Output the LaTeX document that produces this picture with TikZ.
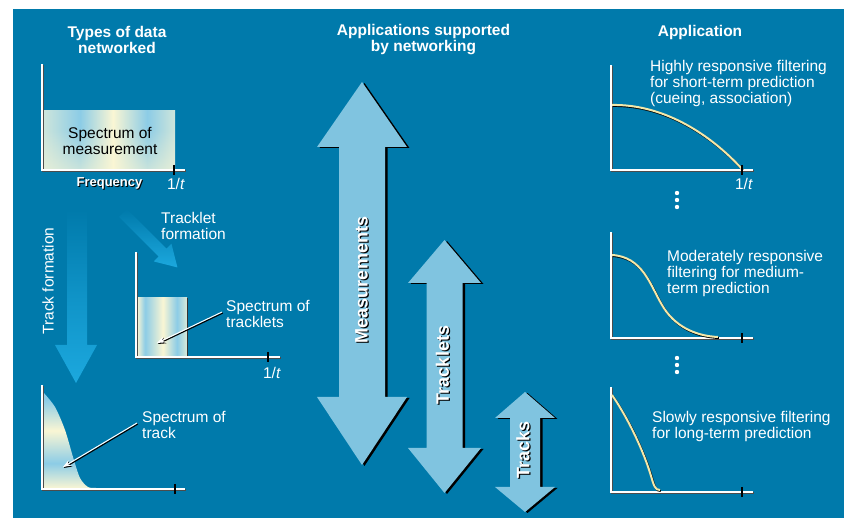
\documentclass[tikz,border=0pt]{standalone}
\usepackage{fontspec}
\setmainfont{Liberation Sans}
\usetikzlibrary{arrows.meta,fadings}
\definecolor{bg}{RGB}{0,122,171}
\definecolor{lblue}{RGB}{128,196,224}
\definecolor{sblue}{RGB}{140,204,230}
\definecolor{syel}{RGB}{250,246,212}
\definecolor{cyanA}{RGB}{28,168,222}
\definecolor{curveY}{RGB}{243,232,170}
\pgfdeclarehorizontalshading{measshade}{100bp}{color(0bp)=(syel!60!sblue); color(25bp)=(syel!60!sblue); color(39bp)=(sblue); color(51.5bp)=(syel); color(64.5bp)=(sblue); color(75bp)=(syel!60!sblue); color(100bp)=(syel!60!sblue)}
\pgfdeclarehorizontalshading{tletshade}{100bp}{color(0bp)=(syel); color(25bp)=(syel); color(33bp)=(sblue); color(51bp)=(syel); color(65bp)=(sblue); color(75bp)=(syel!70!sblue); color(100bp)=(syel!70!sblue)}
\pgfdeclareverticalshading{trackshade}{100bp}{color(0bp)=(syel); color(25bp)=(syel); color(38bp)=(sblue); color(55bp)=(syel); color(71bp)=(sblue); color(75bp)=(sblue); color(100bp)=(sblue)}
\newcommand\dblarrow[7]{%
  \foreach \dx/\dy/\col in {2.5/1/black, 0/0/lblue}{%
    \fill[\col, shift={(\dx,\dy)}] (#1,#2) -- ({#1+#6},#3) -- ({#1+#7},#3) -- ({#1+#7},#4) -- ({#1+#6},#4) -- (#1,#5) -- ({#1-#6},#4) -- ({#1-#7},#4) -- ({#1-#7},#3) -- ({#1-#6},#3) -- cycle;}}
\newcommand\axes[4]{% #1 ox, #2 oy, #3 top y, #4 right x
  \draw[black!70, line width=1.5pt, shift={(1,1.2)}] (#1,#3) -- (#1,#2) -- (#4,#2);
  \draw[white, line width=1.8pt] (#1,#3) -- (#1,#2) -- (#4,#2);}
\newcommand\tickmark[2]{\draw[black, line width=2pt] (#1,{#2-5}) -- (#1,{#2+5});}
\tikzset{
  body/.style={text=white, font=\fontsize{15.5}{16}\selectfont, inner sep=0pt},
  title/.style={text=white, font=\fontsize{15.5}{16}\selectfont\bfseries, align=center, inner sep=0pt},
  arrlabel/.style={font=\fontsize{18}{18}\selectfont\bfseries, inner sep=0pt, rotate=90},
  curve/.style={curveY, line width=2pt},
  curveshadow/.style={black, line width=2pt, shift={(0.8,1)}},
  leader/.style={white, line width=1pt, -{Stealth[length=8pt,width=6pt]}},
  leadershadow/.style={black, line width=1.2pt, shift={(0.8,1)}, -{Stealth[length=8pt,width=6pt]}},
  dot/.style={white}
}
\begin{document}
\begin{tikzpicture}[x=1pt,y=-1pt]
\useasboundingbox (0,0) rectangle (844,518);
\fill[white] (0,0) rectangle (844,518);
\fill[bg] (13,9) rectangle (844,518);

% titles
\node[title] (t1) at (117,40) {Types of data\\networked};
\node[title] (t2) at (423.5,40) {Applications supported\\by networking};
\node[title] (t3) at (700,32) {Application};

% ---- chart 1: measurement
\shade[shading=measshade] (43,111) rectangle (175,170);
\fill[syel, path fading=north, fill opacity=0.55] (43,130) rectangle (175,170);
\axes{42}{170}{64}{185}
\tickmark{174}{170}
\node[body, align=center, text=black] (m1) at (110,141) {Spectrum of\\measurement};
\node[font=\fontsize{13}{13}\selectfont\bfseries, text=black, inner sep=0pt] (fqs) at (110.5,184) {Frequency};
\node[font=\fontsize{13}{13}\selectfont\bfseries, text=white, inner sep=0pt] (fq) at (109.5,183) {Frequency};
\node[body] (r1) at (176,184) {1/\textit{t}};

% ---- track formation arrow
\shade[top color=bg, bottom color=cyanA, middle color=cyanA!55!bg] (67,210) -- (87,210) -- (87,345) -- (97,345) -- (76,383) -- (55,345) -- (67,345) -- cycle;
\node[body, rotate=90] (tf) at (48,281) {Track formation};

% ---- tracklet formation arrow
\begin{scope}[shift={(123,213)}, x={(0.7071pt,-0.7071pt)}, y={(0.7071pt,0.7071pt)}]
\shade[left color=bg, right color=cyanA, shading angle=0] (0,-5.5) -- (56,-5.5) -- (56,-12.5) -- (77,0) -- (56,12.5) -- (56,5.5) -- (0,5.5) -- cycle;
\end{scope}
\node[body, align=left, anchor=west] (tlf) at (161,226) {Tracklet\\formation};

% ---- chart 2: tracklets
\shade[shading=tletshade] (137,298) rectangle (187,357);
\draw[black!80, line width=1pt] (187.5,298) -- (187.5,357);
\axes{136}{357}{252}{280}
\tickmark{268}{357}
\node[body, align=left, anchor=west] (st) at (226,313.5) {Spectrum of\\tracklets};
\draw[leadershadow] (222,312) -- (157,343);
\draw[leader] (222,312) -- (157,343);
\node[body] (r2) at (272,373) {1/\textit{t}};

% ---- chart 3: track
\shade[shading=trackshade] (43,488) -- plot[smooth] coordinates {(43,392) (55,407) (65,430) (73,457) (80,478) (88,487) (96,488)} -- cycle;
\axes{42}{489}{385}{185}
\tickmark{175}{489}
\node[body, align=left, anchor=west] (stk) at (142,425) {Spectrum of\\track};
\draw[leadershadow] (137,423) -- (63,467);
\draw[leader] (137,423) -- (63,467);

% ---- double arrows
\dblarrow{362}{82}{147}{397}{465}{45}{23}
\node[arrlabel, text=black] (ms) at (362.8,281) {Measurements};
\node[arrlabel, text=white] (m) at (361.5,280) {Measurements};
\dblarrow{444.5}{240}{283}{448}{493}{36.5}{18}
\node[arrlabel, text=black] (tls) at (443.8,366) {Tracklets};
\node[arrlabel, text=white] (tl) at (442.5,365) {Tracklets};
\dblarrow{525}{392}{418}{487}{512}{30}{15}
\node[arrlabel, text=black] (tks) at (524.3,451) {Tracks};
\node[arrlabel, text=white] (tk) at (523,450) {Tracks};

% ---- chart A
\axes{611}{170}{65}{753}
\draw[curveshadow] (612,105) .. controls (665,104) and (712,136) .. (742,169);
\draw[curve] (612,105) .. controls (665,104) and (712,136) .. (742,169);
\tickmark{742}{170}
\node[body, align=left, anchor=west] (ta) at (650,83) {Highly responsive filtering\\for short-term prediction\\(cueing, association)};
\node[body] (r3) at (744,184) {1/\textit{t}};
\foreach \yy in {193,200,207} \fill[dot] (677,\yy) circle (2.2);

% ---- chart B
\axes{611}{338}{232}{753}
\draw[curveshadow] (612,255) .. controls (643,257) and (650,285) .. (662,305) .. controls (674,326) and (695,336) .. (718,337);
\draw[curve] (612,255) .. controls (643,257) and (650,285) .. (662,305) .. controls (674,326) and (695,336) .. (718,337);
\tickmark{742}{338}
\node[body, align=left, anchor=west] (tb) at (667,273) {Moderately responsive\\filtering for medium-\\term prediction};
\foreach \yy in {358,365,372} \fill[dot] (677,\yy) circle (2.2);

% ---- chart C
\axes{611}{492}{387}{753}
\draw[curveshadow] (612,395) .. controls (628,418) and (644,452) .. (651,476) .. controls (654,486) and (655,490) .. (660,490);
\draw[curve] (612,395) .. controls (628,418) and (644,452) .. (651,476) .. controls (654,486) and (655,490) .. (660,490);
\tickmark{742}{492}
\node[body, align=left, anchor=west] (tc) at (652,426) {Slowly responsive filtering\\for long-term prediction};
\end{tikzpicture}
\end{document}
